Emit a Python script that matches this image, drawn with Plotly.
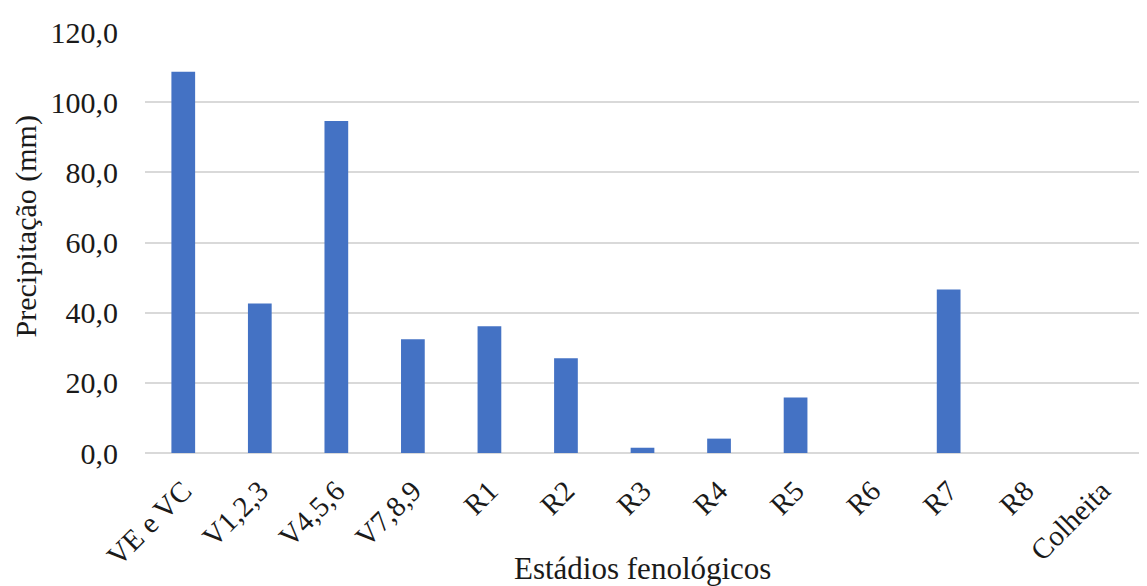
import plotly.graph_objects as go

categories = ["VE e VC", "V1,2,3", "V4,5,6", "V7,8,9", "R1", "R2", "R3", "R4", "R5", "R6", "R7", "R8", "Colheita"]
precip = [108.7, 42.6, 94.6, 32.4, 36.1, 27.0, 1.5, 4.1, 15.8, 0.0, 46.6, 0.0, 0.0]
y_ticks = [0, 20, 40, 60, 80, 100, 120]

font_family = "Liberation Serif, Times New Roman, serif"

fig = go.Figure(go.Bar(x=categories, y=precip, marker=dict(color="#4472C4", line=dict(width=0)), width=0.31))

fig.update_layout(
    width=1139, height=578,
    margin=dict(l=137, r=7, t=20, b=133),
    paper_bgcolor="white", plot_bgcolor="white",
    separators=", ",
    showlegend=False,
    font=dict(family=font_family, size=29, color="#1a1a1a"),
    xaxis=dict(
        tickangle=-45, tickfont=dict(size=29, family=font_family),
        showgrid=False, showline=False, ticks="", ticklabelstandoff=14,
    ),
    yaxis=dict(
        range=[0, 120], tickvals=y_ticks, tickformat=".1f",
        tickfont=dict(size=30, family=font_family),
        showgrid=True, gridcolor="#d9d9d9", gridwidth=1.5,
        zeroline=True, zerolinecolor="#d9d9d9", zerolinewidth=1.5,
        showline=False, ticks="", ticklabelstandoff=26,
    ),
    annotations=[
        dict(text="Estádios fenológicos", xref="paper", yref="paper", x=0.5, y=0,
             xanchor="center", yanchor="middle", yshift=-115, showarrow=False,
             font=dict(size=31, family=font_family, color="#1a1a1a")),
        dict(text="Precipitação (mm)", xref="paper", yref="paper", x=0, y=0.5,
             xanchor="center", yanchor="middle", xshift=-120, yshift=16, textangle=-90,
             showarrow=False, font=dict(size=30, family=font_family, color="#1a1a1a")),
    ],
)

fig.write_html("out.html")
